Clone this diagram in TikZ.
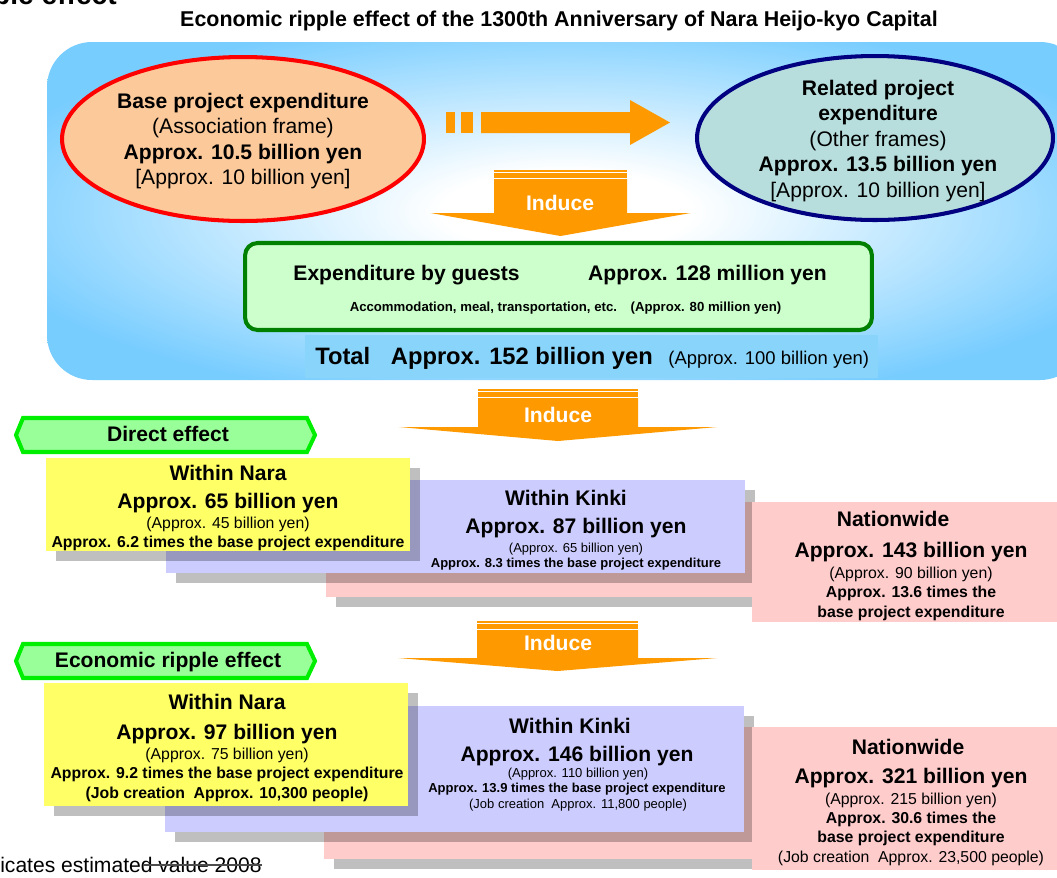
\documentclass[tikz,border=0pt]{standalone}
\usepackage{fontspec}
\setmainfont{Liberation Sans}
\usepackage{xcolor}
\definecolor{panelblue}{RGB}{120,205,255}
\definecolor{bandblue}{RGB}{136,212,250}
\definecolor{peach}{RGB}{251,201,154}
\definecolor{paleteal}{RGB}{183,222,221}
\definecolor{navyline}{RGB}{0,0,128}
\definecolor{orng}{RGB}{255,153,0}
\definecolor{mintfill}{RGB}{204,255,204}
\definecolor{darkgreen}{RGB}{0,128,0}
\definecolor{tagfill}{RGB}{153,255,153}
\definecolor{taggreen}{RGB}{0,238,0}
\definecolor{naraY}{RGB}{255,255,102}
\definecolor{kinkiL}{RGB}{204,204,255}
\definecolor{nationP}{RGB}{255,204,204}
\pgfdeclareradialshading{panelglow}{\pgfpoint{0bp}{0bp}}{color(0bp)=(white); color(6bp)=(white); color(29bp)=(panelblue); color(50bp)=(panelblue)}
% box with its grey shadow
\newcommand{\shbox}[5]{
\fill[black,opacity=0.25] (#2+10,#3+10) rectangle (#4+10,#5+10);
\fill[#1] (#2,#3) rectangle (#4,#5);
}
% down arrow: centre x, top, body half width, head half width, head y, tip y
\newcommand{\induce}[6]{
\fill[orng] (#1-#3,#2) rectangle (#1+#3,#2+2);
\fill[orng] (#1-#3,#2+3) rectangle (#1+#3,#2+8);
\fill[orng] (#1-#3,#2+9)--(#1+#3,#2+9)--(#1+#3,#5)--(#1+#4,#5)--(#1,#6)--(#1-#4,#5)--(#1-#3,#5)--cycle;
}
% green label with pointed ends: top y, bottom y
\newcommand{\effecttag}[2]{
\filldraw[fill=tagfill, draw=taggreen, line width=2.3pt] (16,#1/2+#2/2)--(23,#1)--(307,#1)--(315,#1/2+#2/2)--(307,#2)--(23,#2)--cycle;
}

\begin{document}
\begin{tikzpicture}[x=0.02cm,y=-0.02cm,
  tx/.style={inner sep=0pt, anchor=base},
  hd/.style={tx, font=\fontsize{12}{14}\selectfont\bfseries},
  sub/.style={tx, font=\fontsize{9}{11}\selectfont},
  subb/.style={tx, font=\fontsize{9}{11}\selectfont\bfseries},
  sm/.style={tx, font=\fontsize{7.4}{9}\selectfont},
  smb/.style={tx, font=\fontsize{7.4}{9}\selectfont\bfseries},
  inducetxt/.style={tx, text=white, font=\fontsize{12}{14}\selectfont\bfseries},
  elltxt/.style={inner sep=0pt, align=center, font=\fontsize{12}{14.5}\selectfont}]

\useasboundingbox (0,0) rectangle (1057,877);
\clip (0,0) rectangle (1057,877);

\node[tx, anchor=base east, font=\fontsize{16}{18}\selectfont\bfseries] (cuttitle) at (117,4) {Economic ripple effect};
\node[tx, font=\fontsize{12.2}{14}\selectfont\bfseries] (title) at (559,26) {Economic ripple effect of the 1300th Anniversary of Nara Heijo-kyo Capital};

\shade[shading=panelglow, rounded corners=0.9cm] (47,42) rectangle (1085,380);

%\draw[white] (47,150)--(1057,150);
\fill[orng] (446,112) rectangle (455,133);
\fill[orng] (461,112) rectangle (473,133);
\fill[orng] (481,112)--(630,112)--(630,100)--(670,122.5)--(630,145)--(630,133)--(481,133)--cycle;

\filldraw[fill=peach, draw=red, line width=2.3pt] (243,139) ellipse [x radius=3.62cm, y radius=1.64cm];
\node[elltxt] (baseexp) at (243,141) {\textbf{Base project expenditure}\\(Association frame)\\\textbf{Approx. 10.5 billion yen}\\{[Approx. 10 billion yen]}};

\filldraw[fill=paleteal, draw=navyline, line width=2.3pt] (875,138) ellipse [x radius=3.56cm, y radius=1.64cm];
\node[elltxt] (relexp) at (878,141) {\textbf{Related project}\\\textbf{expenditure}\\(Other frames)\\\textbf{Approx. 13.5 billion yen}\\{[Approx. 10 billion yen]}};

\induce{560.5}{170}{66.5}{130}{213}{236}
\node[inducetxt] (induceA) at (560,210) {Induce};

\node[draw=darkgreen, fill=mintfill, line width=2.3pt, rounded corners=0.25cm, minimum width=12.54cm, minimum height=1.74cm, inner sep=0pt] (guestbox) at (558.5,286.5) {};
\node[hd] (guests) at (406.5,280) {Expenditure by guests};
\node[hd] (guestamt) at (707.5,280) {Approx. 128 million yen};
\node[tx, font=\fontsize{7.5}{9}\selectfont\bfseries] (guestitems) at (565.5,311) {Accommodation, meal, transportation, etc.\hspace{5pt} (Approx. 80 million yen)};

\fill[bandblue] (305,335) rectangle (878,378);
\node[tx, anchor=base west, font=\fontsize{13.5}{16}\selectfont\bfseries] (total) at (315,364) {Total\hspace{8pt} Approx. 152 billion yen};
\node[tx, anchor=base west, font=\fontsize{10.5}{12}\selectfont] (totalold) at (668,364) {(Approx. 100 billion yen)};

\induce{558}{389}{80}{159}{427}{441}
\node[inducetxt] (induceB) at (558,422) {Induce};

\effecttag{418}{452}
\node[hd] (directtag) at (168,441) {Direct effect};

\shbox{nationP}{326}{502}{1070}{597}
\shbox{kinkiL}{166}{480}{745}{573}
\fill[nationP] (752,502) rectangle (1070,622);
\shbox{naraY}{46}{458}{410}{551}

\node[hd] (dnara) at (228,480) {Within Nara};
\node[hd] (dnaraamt) at (228,508) {Approx. 65 billion yen};
\node[sub] (dnaraold) at (228,528) {(Approx. 45 billion yen)};
\node[subb] (dnaratimes) at (228,547) {Approx. 6.2 times the base project expenditure};

\node[hd] (dkinki) at (566,505) {Within Kinki};
\node[hd] (dkinkiamt) at (576,533) {Approx. 87 billion yen};
\node[sm] (dkinkiold) at (576,552) {(Approx. 65 billion yen)};
\node[smb] (dkinkitimes) at (576,567) {Approx. 8.3 times the base project expenditure};

\node[hd] (dnation) at (893,526) {Nationwide};
\node[hd] (dnationamt) at (911,557) {Approx. 143 billion yen};
\node[sub] (dnationold) at (911,578) {(Approx. 90 billion yen)};
\node[subb] (dnationtimes) at (911,597) {Approx. 13.6 times the};
\node[subb] (dnationbase) at (911,617) {base project expenditure};

\induce{557.5}{621}{80.5}{159.5}{658}{671}
\node[inducetxt] (induceC) at (558,650) {Induce};

\effecttag{644}{678}
\node[hd] (rippletag) at (168,667) {Economic ripple effect};

\shbox{nationP}{324}{727}{1070}{859}
\shbox{kinkiL}{165}{706}{744}{832}
\fill[nationP] (752,727) rectangle (1070,870);
\shbox{naraY}{44}{683}{408}{806}

\node[hd] (rnara) at (227,709) {Within Nara};
\node[hd] (rnaraamt) at (227,739) {Approx. 97 billion yen};
\node[sub] (rnaraold) at (227,759) {(Approx. 75 billion yen)};
\node[subb] (rnaratimes) at (227,778) {Approx. 9.2 times the base project expenditure};
\node[subb] (rnarajobs) at (227,798) {(Job creation\ \ Approx. 10,300 people)};

\node[hd] (rkinki) at (570,733) {Within Kinki};
\node[hd] (rkinkiamt) at (577,761) {Approx. 146 billion yen};
\node[sm] (rkinkiold) at (578,777) {(Approx. 110 billion yen)};
\node[smb] (rkinkitimes) at (577,792) {Approx. 13.9 times the base project expenditure};
\node[sm] (rkinkijobs) at (578,808) {(Job creation\ \ Approx. 11,800 people)};

\node[hd] (rnation) at (908,754) {Nationwide};
\node[hd] (rnationamt) at (911,783) {Approx. 321 billion yen};
\node[sub] (rnationold) at (911,804) {(Approx. 215 billion yen)};
\node[subb] (rnationtimes) at (911,823) {Approx. 30.6 times the};
\node[subb] (rnationbase) at (911,842) {base project expenditure};
\node[sub] (rnationjobs) at (911,862) {(Job creation\ \ Approx. 23,500 people)};

\node[tx, anchor=base east, font=\fontsize{12}{14}\selectfont] (estnote) at (262,872) {indicates estimated value 2008};
\draw[line width=0.6pt, black!70] (143,865)--(262,865);

\end{tikzpicture}
\end{document}
